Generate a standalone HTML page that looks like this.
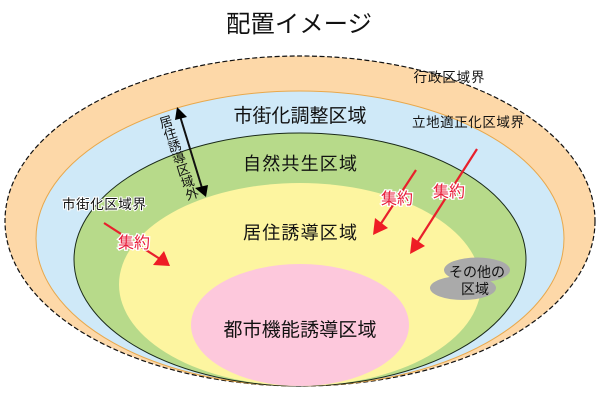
<!DOCTYPE html>
<html><head><meta charset="utf-8"><style>html,body{margin:0;padding:0;background:#fff}svg{display:block}text{font-family:"Liberation Sans","Noto Sans CJK JP",sans-serif;fill:#111}</style></head><body>
<svg width="600" height="400" viewBox="0 0 600 400" xmlns="http://www.w3.org/2000/svg">
<rect width="600" height="400" fill="#fff"/>
<ellipse cx="300" cy="221" rx="295" ry="165" fill="#fdd8a8"/>
<ellipse cx="300" cy="221" rx="295" ry="165" fill="none" stroke="#111" stroke-width="1.2" stroke-dasharray="5 2.5"/>
<ellipse cx="300" cy="238.5" rx="264" ry="147.5" fill="#cfe9f8" stroke="#e8a84c" stroke-width="1"/>
<ellipse cx="300" cy="259.5" rx="226" ry="126.5" fill="#b7da8a" stroke="#1a2a1a" stroke-width="1"/>
<ellipse cx="300" cy="284.5" rx="181" ry="101.5" fill="#fdf5a0"/>
<ellipse cx="300" cy="325" rx="109" ry="61" fill="#fdc8dc"/>
<ellipse cx="477" cy="270" rx="33" ry="12.5" fill="#aaaaaa"/>
<ellipse cx="463" cy="288" rx="33" ry="12" fill="#aaaaaa"/>
<g stroke="#111" stroke-width="2"><line x1="180" y1="116" x2="202" y2="188"/></g>
<polygon points="177,107 187,117 175,120" fill="#000"/>
<polygon points="206,197 195,188 208,185" fill="#000"/>
<g stroke="#e8202c" stroke-width="2.2"><line x1="104" y1="223" x2="160" y2="259"/><line x1="416" y1="170" x2="380" y2="225"/><line x1="477" y1="149" x2="417" y2="243"/></g>
<polygon points="170,266 153,265 164,251" fill="#ee1c25"/>
<polygon points="373,235 375,218 388,228" fill="#ee1c25"/>
<polygon points="410,254 412,237 425,246" fill="#ee1c25"/>
<text x="299" y="32" font-size="24" text-anchor="middle" textLength="146" lengthAdjust="spacingAndGlyphs">配置イメージ</text>
<text x="300" y="122" font-size="19" text-anchor="middle" textLength="133">市街化調整区域</text>
<text x="300" y="170" font-size="18" text-anchor="middle" textLength="114">自然共生区域</text>
<text x="300" y="239" font-size="18" text-anchor="middle" textLength="114">居住誘導区域</text>
<text x="300" y="336" font-size="19" text-anchor="middle" textLength="153">都市機能誘導区域</text>
<text x="449" y="82" font-size="13.5" text-anchor="middle" textLength="71">行政区域界</text>
<text x="468" y="127" font-size="13.5" text-anchor="middle" textLength="112">立地適正化区域界</text>
<text x="104" y="209" font-size="13.5" text-anchor="middle" textLength="84" style="paint-order:stroke;stroke:#fff;stroke-width:2px">市街化区域界</text>
<g font-size="16" text-anchor="middle" style="paint-order:stroke;stroke:#fff;stroke-width:2.5px"><text x="134" y="248" style="fill:#e8203c">集約</text><text x="397" y="204" style="fill:#e8203c">集約</text><text x="449" y="197" style="fill:#e8203c">集約</text></g>
<text x="477" y="277" font-size="14" text-anchor="middle" textLength="56">その他の</text>
<text x="475" y="294" font-size="14" text-anchor="middle" textLength="28">区域</text>
<g font-size="13" text-anchor="middle" dominant-baseline="central">
<text transform="translate(166,122) rotate(-17)">居</text>
<text transform="translate(170.3,134) rotate(-17)">住</text>
<text transform="translate(174.6,146) rotate(-17)">誘</text>
<text transform="translate(179,158) rotate(-17)">導</text>
<text transform="translate(183.3,170) rotate(-17)">区</text>
<text transform="translate(187.6,182) rotate(-17)">域</text>
<text transform="translate(192,194) rotate(-17)">外</text>
</g>
</svg>
</body></html>
